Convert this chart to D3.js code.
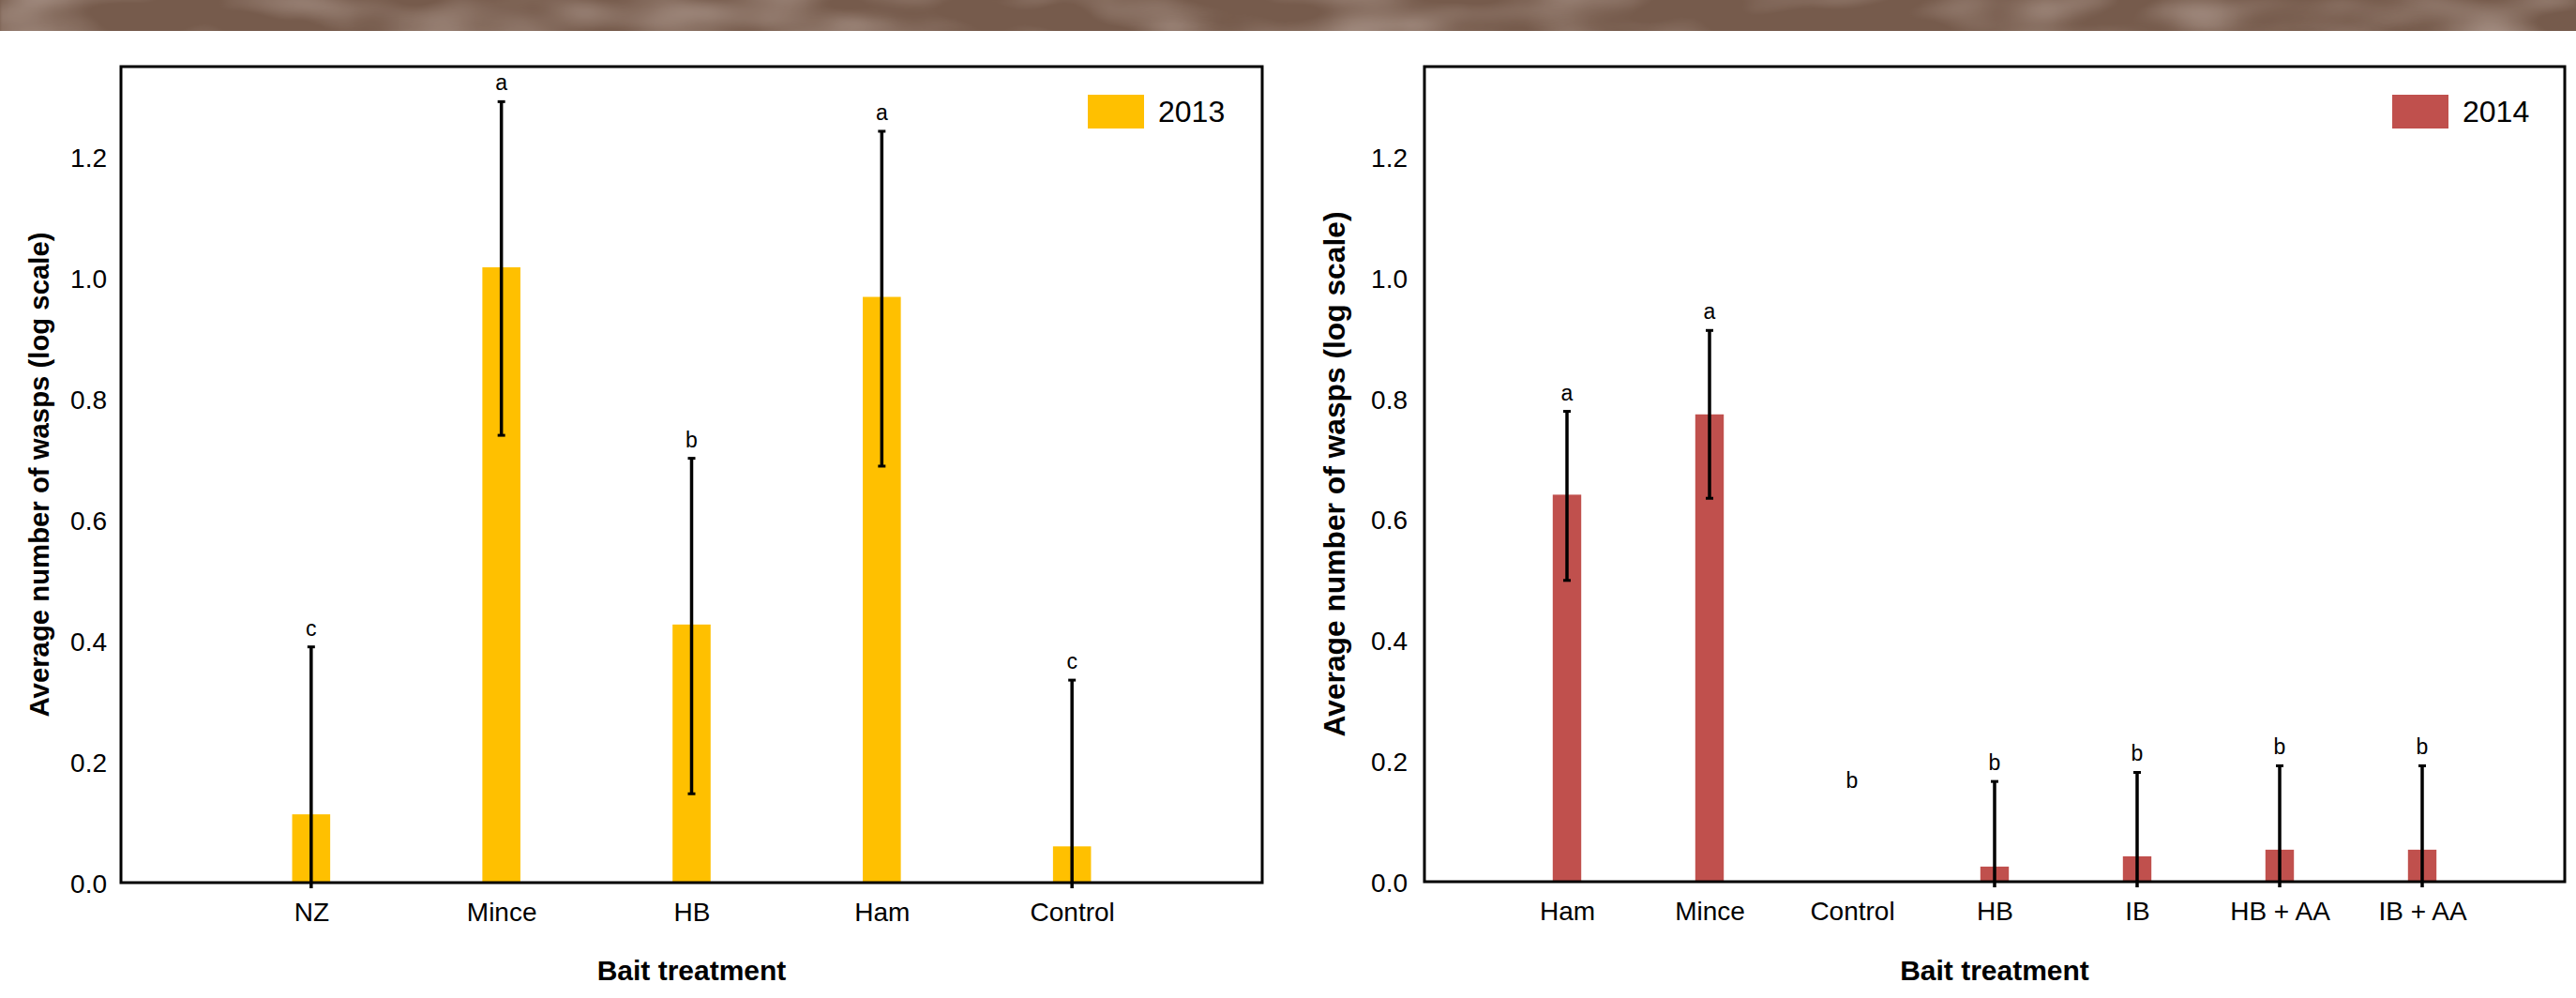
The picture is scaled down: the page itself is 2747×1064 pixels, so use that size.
<!DOCTYPE html>
<html>
<head>
<meta charset="utf-8">
<script src="https://cdn.jsdelivr.net/npm/d3@7"></script>
<style>
  html, body { margin: 0; padding: 0; background: #ffffff; }
  svg { display: block; }
  text { font-family: "Liberation Sans", Arial, sans-serif; fill: #000; }
</style>
</head>
<body>
<svg id="chart" width="2747" height="1064"></svg>
<script>
// 2013 trial
const baits2013 = ["NZ", "Mince", "HB", "Ham", "Control"];
const means2013 = [0.113, 1.018, 0.427, 0.969, 0.060];
const upper2013 = [0.390, 1.292, 0.702, 1.243, 0.335];
const lower2013 = [-0.164, 0.740, 0.147, 0.689, -0.215];
const letters2013 = ["c", "a", "b", "a", "c"];

// 2014 trial (no wasps caught at the Control bait)
const baits2014 = ["Ham", "Mince", "Control", "HB", "IB", "HB + AA", "IB + AA"];
const means2014 = [0.641, 0.774, 0, 0.025, 0.042, 0.053, 0.053];
const upper2014 = [0.779, 0.913, null, 0.166, 0.181, 0.192, 0.192];
const lower2014 = [0.499, 0.635, null, -0.116, -0.097, -0.086, -0.086];
const letters2014 = ["a", "a", "b", "b", "b", "b", "b"];
const emptyLetterLevel = 0.137;

const yTickValues = [0, 0.2, 0.4, 0.6, 0.8, 1.0, 1.2];
const yTickLabels = ["0.0", "0.2", "0.4", "0.6", "0.8", "1.0", "1.2"];
const yMax = 1.35;

const svg = d3.select("#chart");

// textured banner along the top edge: soft vertical streaks over brown
const defs = svg.append("defs");
const grain = defs.append("filter").attr("id", "grain")
  .attr("x", 0).attr("y", 0).attr("width", 1).attr("height", 1);
grain.append("feTurbulence").attr("type", "fractalNoise")
  .attr("baseFrequency", "0.008 0.02").attr("numOctaves", 2).attr("seed", 11);
grain.append("feColorMatrix").attr("type", "matrix")
  .attr("values", "0 0 0 0 0.58  0 0 0 0 0.47  0 0 0 0 0.42  1.3 0 0 0 -0.55");
grain.append("feGaussianBlur").attr("stdDeviation", "1.5 0.5");
svg.append("rect").attr("x", 0).attr("y", 0).attr("width", 2747).attr("height", 33)
  .attr("fill", "#765b4c");
svg.append("rect").attr("x", 0).attr("y", 0).attr("width", 2747).attr("height", 33)
  .attr("filter", "url(#grain)");

const panels = [
  { left: 129, right: 1346, top: 71, bottom: 941, cats: baits2013, means: means2013,
    upper: upper2013, lower: lower2013, letters: letters2013, color: "#FFC000",
    year: "2013", legendX: 1160, labelRight: 114, titleX: 42, titleLen: 517, titleSize: 30 },
  { left: 1519, right: 2735, top: 71, bottom: 940, cats: baits2014, means: means2014,
    upper: upper2014, lower: lower2014, letters: letters2014, color: "#C0504D",
    year: "2014", legendX: 2551, labelRight: 1501, titleX: 1424, titleLen: 560, titleSize: 32 }
];

panels.forEach(p => {
  const g = svg.append("g");
  const x = d3.scalePoint().domain(p.cats).range([p.left, p.right]).padding(1);
  const y = d3.scaleLinear().domain([0, yMax]).range([p.bottom, p.top]);
  const bw = x.step() * 0.2;

  // y tick labels (no tick marks)
  const yAxis = d3.axisLeft(y).tickValues(yTickValues)
    .tickFormat((d, i) => yTickLabels[i]).tickSize(0).tickPadding(p.left - p.labelRight);
  const ya = g.append("g").attr("transform", `translate(${p.left},0)`).call(yAxis);
  ya.select(".domain").remove();
  ya.selectAll("text").attr("font-size", 28).attr("font-family", "Liberation Sans, Arial, sans-serif")
    .attr("fill", "#000").attr("dy", "0.36em");

  // x category labels
  const xAxis = d3.axisBottom(x).tickSize(0).tickPadding(0);
  const xa = g.append("g").attr("transform", `translate(0,${p.bottom})`).call(xAxis);
  xa.select(".domain").remove();
  xa.selectAll("text").attr("font-size", 28).attr("font-family", "Liberation Sans, Arial, sans-serif")
    .attr("fill", "#000").attr("dy", null).attr("y", 41);

  // bars
  g.selectAll("rect.bar").data(p.cats).join("rect").attr("class", "bar")
    .attr("x", d => x(d) - bw / 2)
    .attr("width", bw)
    .attr("y", (d, i) => y(p.means[i]))
    .attr("height", (d, i) => y(0) - y(p.means[i]))
    .attr("fill", p.color);

  // error bars
  const capW = 8;
  p.cats.forEach((c, i) => {
    const hi = p.upper[i], lo = p.lower[i];
    const cx = x(c);
    if (hi !== null) {
      const yLo = lo < 0 ? y(0) + 6 : y(lo);
      g.append("line").attr("x1", cx).attr("x2", cx).attr("y1", y(hi)).attr("y2", yLo)
        .attr("stroke", "#000").attr("stroke-width", 3.5);
      g.append("line").attr("x1", cx - capW / 2).attr("x2", cx + capW / 2)
        .attr("y1", y(hi)).attr("y2", y(hi)).attr("stroke", "#000").attr("stroke-width", 3);
      if (lo >= 0) {
        g.append("line").attr("x1", cx - capW / 2).attr("x2", cx + capW / 2)
          .attr("y1", y(lo)).attr("y2", y(lo)).attr("stroke", "#000").attr("stroke-width", 3);
      }
    }
    const level = hi !== null ? hi : emptyLetterLevel;
    g.append("text").attr("x", cx).attr("y", y(level) - 12)
      .attr("text-anchor", "middle").attr("font-size", 23).text(p.letters[i]);
  });

  // plot frame
  g.append("rect").attr("x", p.left).attr("y", p.top)
    .attr("width", p.right - p.left).attr("height", p.bottom - p.top)
    .attr("fill", "none").attr("stroke", "#000").attr("stroke-width", 3);

  // legend
  g.append("rect").attr("x", p.legendX).attr("y", 101).attr("width", 60).attr("height", 36)
    .attr("fill", p.color);
  g.append("text").attr("x", p.legendX + 75).attr("y", 130).attr("font-size", 32).text(p.year);

  // axis titles
  g.append("text")
    .attr("transform", `translate(${p.titleX + 10},${(p.top + p.bottom) / 2}) rotate(-90)`)
    .attr("text-anchor", "middle").attr("font-weight", "bold").attr("font-size", p.titleSize)
    .attr("textLength", p.titleLen).attr("lengthAdjust", "spacingAndGlyphs")
    .text("Average number of wasps (log scale)");
  g.append("text").attr("x", (p.left + p.right) / 2).attr("y", 1045)
    .attr("text-anchor", "middle").attr("font-weight", "bold").attr("font-size", 30)
    .text("Bait treatment");
});
</script>
</body>
</html>
